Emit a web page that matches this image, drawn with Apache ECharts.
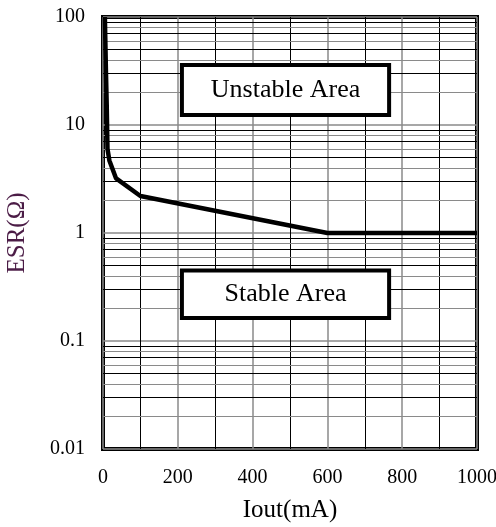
<!DOCTYPE html>
<html>
<head>
<meta charset="utf-8">
<script src="https://cdn.jsdelivr.net/npm/echarts@6/dist/echarts.min.js"></script>
<style>
  html, body { margin: 0; padding: 0; background: #fff; }
</style>
</head>
<body>
<!-- chart container, same size as the window -->
<div id="esrChart" style="width: 496px; height: 527px"></div>
<script>
// ESR stability boundary: [Iout mA, ESR ohm]
const boundaryCurve = [
  [5, 100], [8, 30], [10, 15], [12, 6], [17, 4.7],
  [35, 3.2], [100, 2.2], [600, 1.0], [1000, 1.0]
]
const yTicks = [0.01, 0.1, 1, 10, 100]
const minorMultiples = [2, 3, 4, 5, 6, 7, 8, 9]
// annotation boxes: [label, [x0, yTop], [x1, yBottom]] in data units
const areaLabels = ['Unstable Area', 'Stable Area']
const areaCorners = [
  [[211, 36], [765, 12.4]],
  [[211, 0.45], [765, 0.163]]
]

const serif = '"Liberation Serif", "DejaVu Serif", serif'

// minor log grid lines (2..9 in each decade), odd ones dark, even ones grey
const minorLines = []
yTicks.slice(0, -1).forEach(decade => {
  minorMultiples.forEach(m => {
    minorLines.push({
      yAxis: decade * m,
      lineStyle: { color: m % 2 ? '#000' : '#8a8a8a', width: 1, type: 'solid' }
    })
  })
})

const chart = echarts.init(document.getElementById('esrChart'))

const option = {
  animation: false,
  grid: {
    left: 103, right: 19, top: 17, bottom: 78,
    outerBoundsMode: 'none', // keep the plot box where the reference has it
    show: true, borderColor: '#000', borderWidth: 4, backgroundColor: 'transparent'
  },
  xAxis: {
    type: 'value',
    min: 0, max: 1000, interval: 200,
    name: 'Iout(mA)', nameLocation: 'middle', nameGap: 49,
    nameTextStyle: { fontFamily: serif, fontSize: 25, color: '#000' },
    axisLine: { show: false },
    axisTick: { show: false },
    axisLabel: {
      fontFamily: serif, fontSize: 20, color: '#000', margin: 19,
      formatter: v => String(v)
    },
    splitLine: { show: true, lineStyle: { color: '#8a8a8a', width: 1.5 } },
    minorTick: { show: false, splitNumber: 2 },
    minorSplitLine: { show: true, lineStyle: { color: '#000', width: 1 } }
  },
  yAxis: {
    type: 'log',
    logBase: 10,
    min: 0.01, max: 100,
    name: 'ESR(Ω)', nameLocation: 'middle', nameGap: 73,
    nameTextStyle: { fontFamily: serif, fontSize: 25, color: '#4b1c46' },
    axisLine: { show: false },
    axisTick: { show: false },
    axisLabel: {
      fontFamily: serif, fontSize: 20, color: '#000', margin: 18,
      formatter: v => String(+v.toPrecision(3))
    },
    splitLine: { show: true, lineStyle: { color: '#8a8a8a', width: 1.5 } }
  },
  series: [
    {
      // helper series holding the log minor grid lines and the area boxes
      name: 'grid',
      type: 'line',
      data: [],
      silent: true,
      markLine: {
        silent: true,
        z: 1,
        symbol: 'none',
        label: { show: false },
        data: minorLines
      },
      markArea: {
        silent: true,
        z: 5,
        itemStyle: { color: '#fff', borderColor: '#000', borderWidth: 4 },
        label: {
          show: true, position: 'inside',
          fontFamily: serif, fontSize: 26, color: '#000'
        },
        data: areaCorners.map((c, i) => [
          { name: areaLabels[i], coord: c[0] },
          { coord: c[1] }
        ])
      }
    },
    {
      name: 'ESR boundary',
      type: 'line',
      z: 10,
      data: boundaryCurve,
      showSymbol: false,
      lineStyle: { color: '#000', width: 4.5 }
    }
  ]
}

chart.setOption(option)
</script>
</body>
</html>
